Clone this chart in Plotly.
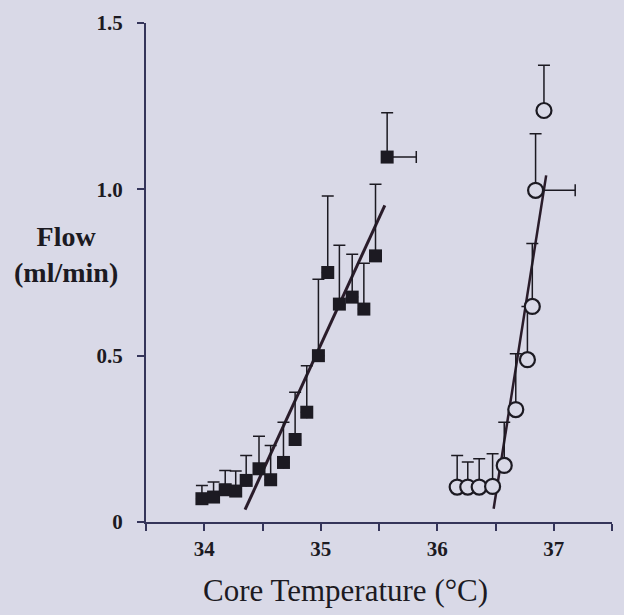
import plotly.graph_objects as go

# Filled squares (first condition)
sq_x = [33.98, 34.08, 34.18, 34.27, 34.36, 34.47, 34.57, 34.68, 34.78, 34.88,
        34.98, 35.06, 35.16, 35.27, 35.37, 35.47, 35.57]
sq_y = [0.070, 0.075, 0.097, 0.093, 0.125, 0.160, 0.127, 0.179, 0.248, 0.330,
        0.500, 0.750, 0.655, 0.676, 0.640, 0.800, 1.097]
sq_err = [0.040, 0.045, 0.058, 0.060, 0.075, 0.098, 0.103, 0.121, 0.142, 0.140,
          0.230, 0.230, 0.177, 0.129, 0.138, 0.215, 0.133]
sq_xerr = [0, 0, 0, 0, 0, 0, 0, 0, 0, 0, 0, 0, 0, 0, 0, 0, 0.25]

# Open circles (second condition)
ci_x = [36.171, 36.262, 36.360, 36.475, 36.575, 36.674, 36.774, 36.816, 36.844, 36.916]
ci_y = [0.105, 0.105, 0.105, 0.107, 0.170, 0.338, 0.488, 0.648, 0.997, 1.237]
ci_err = [0.095, 0.075, 0.085, 0.098, 0.130, 0.168, 0.160, 0.189, 0.170, 0.136]
ci_xerr = [0, 0, 0, 0, 0, 0, 0, 0, 0.34, 0]

# Regression lines
sq_fit_x = [34.35, 35.55]
sq_fit_y = [0.037, 0.952]
ci_fit_x = [36.484, 36.935]
ci_fit_y = [0.040, 1.042]

x_tickvals = [33.5, 34, 34.5, 35, 35.5, 36, 36.5, 37, 37.5]
x_ticktext = ["", "34", "", "35", "", "36", "", "37", ""]
y_tickvals = [0, 0.5, 1.0, 1.5]
y_ticktext = ["0", "0.5", "1.0", "1.5"]

BG = "rgb(217,217,231)"
INK = "#1c1a22"
AXIS = "#35355a"
FONT = "Liberation Serif"

fig = go.Figure()

# regression lines
fig.add_trace(go.Scatter(x=sq_fit_x, y=sq_fit_y, mode="lines",
                         line=dict(color="#2a1c2a", width=3), showlegend=False,
                         hoverinfo="skip"))
fig.add_trace(go.Scatter(x=ci_fit_x, y=ci_fit_y, mode="lines",
                         line=dict(color="#2a1c2a", width=2.5), showlegend=False,
                         hoverinfo="skip"))

fig.add_trace(go.Scatter(
    x=sq_x, y=sq_y, mode="markers",
    marker=dict(symbol="square", size=13, color=INK, line=dict(width=0)),
    error_y=dict(type="data", symmetric=False, array=sq_err,
                 arrayminus=[0] * len(sq_err), color=INK, thickness=1.5, width=6),
    error_x=dict(type="data", symmetric=False, array=sq_xerr,
                 arrayminus=[0] * len(sq_xerr), color=INK, thickness=1.5, width=6),
    showlegend=False))

fig.add_trace(go.Scatter(
    x=ci_x, y=ci_y, mode="markers",
    marker=dict(symbol="circle", size=15, color=BG, line=dict(width=2.2, color=INK)),
    error_y=dict(type="data", symmetric=False, array=ci_err,
                 arrayminus=[0] * len(ci_err), color=INK, thickness=1.5, width=6),
    error_x=dict(type="data", symmetric=False, array=ci_xerr,
                 arrayminus=[0] * len(ci_xerr), color=INK, thickness=1.5, width=6),
    showlegend=False))

fig.update_xaxes(
    range=[33.5, 37.5], tickvals=x_tickvals, ticktext=x_ticktext,
    showline=True, linecolor=AXIS, linewidth=2, showgrid=False, zeroline=False,
    ticks="outside", ticklen=7, tickwidth=2, tickcolor=AXIS,
    tickfont=dict(family=FONT, size=21, color=INK, weight="bold"),
    ticklabelstandoff=0)

fig.update_yaxes(
    range=[0, 1.5], tickvals=y_tickvals, ticktext=y_ticktext,
    showline=True, linecolor=AXIS, linewidth=2, showgrid=False, zeroline=False,
    ticks="outside", ticklen=7, tickwidth=2, tickcolor=AXIS,
    tickfont=dict(family=FONT, size=21, color=INK, weight="bold"),
    ticklabelstandoff=10)

fig.add_annotation(
    text="<b>Flow</b><br><b>(ml/min)</b>", xref="paper", yref="paper",
    x=-0.172, y=0.537, xanchor="center", yanchor="middle", showarrow=False,
    align="center", font=dict(family=FONT, size=28, color=INK))

fig.add_annotation(
    text="Core Temperature (°C)", xref="paper", yref="paper",
    x=(345 - 146) / 466, y=-(590 - 521.7) / 499, xanchor="center", yanchor="middle",
    showarrow=False, font=dict(family=FONT, size=31, color=INK))

fig.update_layout(
    width=624, height=615,
    margin=dict(l=146, r=12, t=23, b=93),
    paper_bgcolor=BG, plot_bgcolor=BG)

fig.write_html("out.html", config={"displayModeBar": False},
               post_script="document.body.style.margin='0';document.body.style.background='%s';" % BG)
